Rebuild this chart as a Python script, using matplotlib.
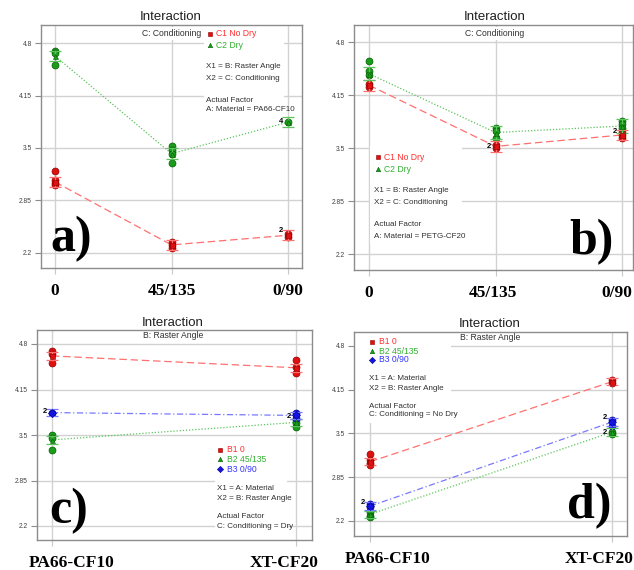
import matplotlib
matplotlib.use("Agg")
import matplotlib.pyplot as plt
import matplotlib.transforms as mtransforms
from matplotlib.patches import Rectangle

W, H = 634, 570
SANS = ["Liberation Sans Narrow", "Liberation Sans", "DejaVu Sans"]
SERIF = ["Liberation Serif", "DejaVu Serif"]

angles = ["0", "45/135", "0/90"]
materials = ["PA66-CF10", "XT-CF20"]
yticks = [2.2, 2.85, 3.5, 4.15, 4.8]
ytick_labels = ["2.2", "2.85", "3.5", "4.15", "4.8"]

# a) PA66-CF10 : raster angle x conditioning
a_nodry_pts = [[3.21, 3.10, 3.07, 3.04], [2.33, 2.30, 2.26], [2.44, 2.40]]
a_nodry_mean = [3.08, 2.30, 2.42]
a_dry_pts = [[4.70, 4.68, 4.53], [3.52, 3.48, 3.43, 3.31], [3.82]]
a_dry_mean = [4.64, 3.43, 3.82]
a_counts = [(2, 2.48, "2"), (2, 3.83, "4")]

# b) PETG-CF20
b_nodry_pts = [[4.28, 4.25], [3.54, 3.50], [3.70, 3.66, 3.62]]
b_nodry_mean = [4.27, 3.52, 3.66]
b_dry_pts = [[4.57, 4.45, 4.39], [3.74, 3.71, 3.62], [3.83, 3.80, 3.74]]
b_dry_mean = [4.41, 3.69, 3.77]
b_counts = [(1, 3.52, "2"), (2, 3.70, "2")]

# c) Dry : material x raster angle
c_b1_pts = [[4.70, 4.66, 4.53], [4.57, 4.47, 4.38]]
c_b1_mean = [4.63, 4.46]
c_b2_pts = [[3.50, 3.46, 3.29], [3.72, 3.67, 3.62]]
c_b2_mean = [3.43, 3.68]
c_b3_pts = [[3.82], [3.81, 3.74]]
c_b3_mean = [3.82, 3.78]
c_counts = [(0, 3.83, "2"), (1, 3.76, "2")]

# d) No Dry
d_b1_pts = [[3.20, 3.10, 3.06, 3.03], [4.29, 4.25]]
d_b1_mean = [3.08, 4.27]
d_b2_pts = [[2.33, 2.28, 2.26], [3.52, 3.49]]
d_b2_mean = [2.30, 3.52]
d_b3_pts = [[2.45, 2.41], [3.70, 3.61]]
d_b3_mean = [2.42, 3.67]
d_counts = [(0, 2.48, "2"), (1, 3.745, "2"), (1, 3.52, "2")]

RED = dict(c="#e01010", e="#900000", l="#ff7070", t="#ff3030")
GREEN = dict(c="#1c9c1c", e="#005c00", l="#5cc45c", t="#30b030")
BLUE = dict(c="#1414e0", e="#000090", l="#7878ff", t="#3434ff")

fig = plt.figure(figsize=(W / 100, H / 100), dpi=100)


def fp(x, y):
    return x / W, 1 - y / H


def add_ax(l, t, r, b):
    return fig.add_axes([l / W, 1 - b / H, (r - l) / W, (b - t) / H])


def setup(ax, labels, xlim, ylim, shifts=None):
    ax.set_xlim(xlim)
    ax.set_ylim(ylim)
    ax.set_xticks(range(len(labels)))
    ax.set_xticklabels(labels, family=SERIF, fontweight="bold", fontsize=12.5)
    ax.set_yticks(yticks)
    ax.set_yticklabels(ytick_labels, family=SANS, fontsize=4.8, color="#404040")
    ax.grid(True, color="#d2d2d2", lw=1)
    ax.set_axisbelow(True)
    for s in ax.spines.values():
        s.set_color("#8c8c8c")
        s.set_linewidth(1)
    ax.tick_params(axis="x", length=4, color="#c8c8c8", pad=7)
    ax.tick_params(axis="y", length=4, color="#8c8c8c", pad=2.5)
    # the big category labels sit a little off their ticks in the original
    if shifts:
        for lab, dx in zip(ax.get_xticklabels(), shifts):
            off = mtransforms.ScaledTranslation(dx / 100, 0, fig.dpi_scale_trans)
            lab.set_transform(lab.get_transform() + off)


def series(ax, pts, means, err, col, marker, ls):
    xs = list(range(len(means)))
    ax.plot(xs, means, color=col["l"], ls=ls, lw=0.9, zorder=2)
    for x, vals in zip(xs, pts):
        ax.plot([x] * len(vals), vals, "o", ms=5, mfc=col["c"], mec=col["e"],
                mew=0.5, zorder=3)
    ax.errorbar(xs, means, yerr=err, fmt="none", ecolor=col["l"], elinewidth=0.9,
                capsize=4, capthick=0.9, zorder=4)
    ax.plot(xs, means, marker, ms=3.6, mfc=col["c"], mec=col["e"], mew=0.4,
            ls="none", zorder=5)


def counts(ax, items):
    for x, y, s in items:
        ax.annotate(s, (x, y), xytext=(-5, 0), textcoords="offset points",
                    ha="center", va="center", fontsize=5.5, fontweight="bold",
                    family=SANS, color="black", zorder=6)


def white_box(ax, l, t, r, b):
    x0, y0 = fp(l, b)
    ax.add_patch(Rectangle((x0, y0), (r - l) / W, (b - t) / H, transform=fig.transFigure,
                           facecolor="white", edgecolor="none", zorder=1))


def ftext(x, y, s, size=5.8, color="#303030", ha="left", **kw):
    fig.text(*fp(x, y), s, fontsize=size, color=color, ha=ha, va="center",
             family=SANS, **kw)


def legend(entries, mx, tx, ys):
    for (label, col, marker), y in zip(entries, ys):
        fig.lines.append(plt.Line2D([mx / W], [1 - y / H], marker=marker, ms=3.2,
                                    mfc=col["c"], mec=col["e"], mew=0.4, ls="none",
                                    transform=fig.transFigure))
        ftext(tx, y, label, color=col["t"], size=6.2)


def letter(x, y, s):
    fig.text(*fp(x, y), s, fontsize=36, fontweight="bold", family=SERIF,
             ha="left", va="baseline", color="black")


cond_entries = [("C1 No Dry", RED, "s"), ("C2 Dry", GREEN, "^")]
ang_entries = [("B1 0", RED, "s"), ("B2 45/135", GREEN, "^"), ("B3 0/90", BLUE, "D")]

# ---- a)
ax = add_ax(41, 25, 302, 268)
setup(ax, angles, (-0.12, 2.12), (2.014, 5.023))
white_box(ax, 144, 27, 200, 40)
white_box(ax, 204, 27, 284, 115)
series(ax, a_nodry_pts, a_nodry_mean, 0.065, RED, "s", (0, (6, 3)))
series(ax, a_dry_pts, a_dry_mean, 0.065, GREEN, "^", (0, (1, 1.5)))
counts(ax, a_counts)
ftext(171, 17, "Interaction", size=9.5, color="#202020", ha="center")
ftext(172, 33, "C: Conditioning", size=6.2, ha="center")
legend(cond_entries, 210, 216, [34, 45])
ftext(206, 67, "X1 = B: Raster Angle")
ftext(206, 78, "X2 = C: Conditioning")
ftext(206, 100, "Actual Factor")
ftext(206, 110, "A: Material = PA66-CF10")
letter(50, 251, "a)")

# ---- b)
ax = add_ax(354, 25, 633, 270)
setup(ax, angles, (-0.119, 2.087), (2.004, 5.009), shifts=[0, -3, -5])
white_box(ax, 465, 27, 526, 40)
white_box(ax, 370, 146, 462, 244)
series(ax, b_nodry_pts, b_nodry_mean, 0.065, RED, "s", (0, (6, 3)))
series(ax, b_dry_pts, b_dry_mean, 0.08, GREEN, "^", (0, (1, 1.5)))
counts(ax, b_counts)
ftext(495, 17, "Interaction", size=9.5, color="#202020", ha="center")
ftext(495, 33, "C: Conditioning", size=6.2, ha="center")
legend(cond_entries, 378, 384, [157, 169])
ftext(374, 191, "X1 = B: Raster Angle")
ftext(374, 202, "X2 = C: Conditioning")
ftext(374, 224, "Actual Factor")
ftext(374, 236, "A: Material = PETG-CF20")
letter(569, 254, "b)")

# ---- c)
ax = add_ax(37, 330, 312, 540)
setup(ax, materials, (-0.061, 1.066), (2.0, 5.0), shifts=[20, -12])
white_box(ax, 144, 331, 203, 342)
white_box(ax, 215, 437, 287, 533)
series(ax, c_b1_pts, c_b1_mean, 0.055, RED, "s", (0, (6, 3)))
series(ax, c_b2_pts, c_b2_mean, 0.055, GREEN, "^", (0, (1, 1.5)))
series(ax, c_b3_pts, c_b3_mean, 0.055, BLUE, "D", (0, (5, 2, 1, 2)))
counts(ax, c_counts)
ftext(173, 323, "Interaction", size=9.5, color="#202020", ha="center")
ftext(173, 336, "B: Raster Angle", size=6.2, ha="center")
legend(ang_entries, 220, 227, [450, 459, 469])
ftext(217, 488, "X1 = A: Material")
ftext(217, 498, "X2 = B: Raster Angle")
ftext(217, 517, "Actual Factor")
ftext(217, 527, "C: Conditioning = Dry")
letter(49, 523, "c)")

# ---- d)
ax = add_ax(354, 332, 627, 536)
setup(ax, materials, (-0.066, 1.062), (1.977, 5.008), shifts=[18, -13])
white_box(ax, 461, 333, 521, 344)
white_box(ax, 355, 333, 451, 423)
series(ax, d_b1_pts, d_b1_mean, 0.055, RED, "s", (0, (6, 3)))
series(ax, d_b2_pts, d_b2_mean, 0.055, GREEN, "^", (0, (1, 1.5)))
series(ax, d_b3_pts, d_b3_mean, 0.055, BLUE, "D", (0, (5, 2, 1, 2)))
counts(ax, d_counts)
ftext(490, 324, "Interaction", size=9.5, color="#202020", ha="center")
ftext(490, 337, "B: Raster Angle", size=6.2, ha="center")
legend(ang_entries, 372, 379, [342, 351, 360])
ftext(369, 378, "X1 = A: Material")
ftext(369, 388, "X2 = B: Raster Angle")
ftext(369, 406, "Actual Factor")
ftext(369, 415, "C: Conditioning = No Dry")
letter(567, 518, "d)")

fig.savefig("out.png", dpi=100)
